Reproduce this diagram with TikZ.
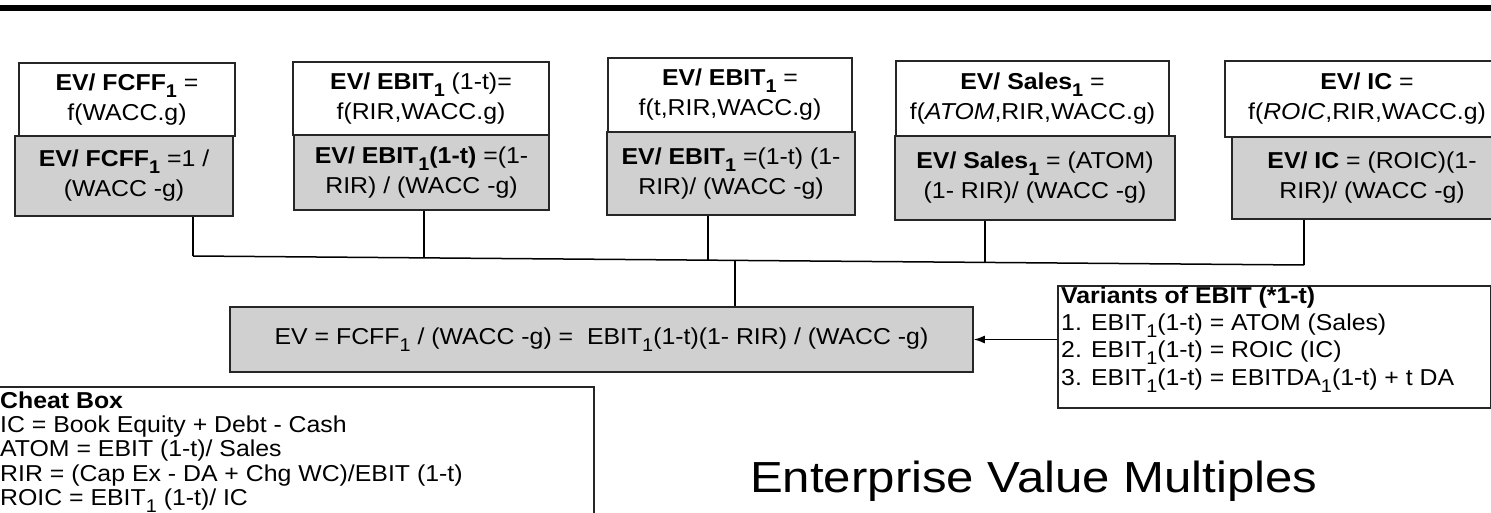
\documentclass[tikz,border=0pt]{standalone}
\usepackage{fontspec}
\setmainfont{Liberation Sans}[FakeStretch=1.08]
\newfontfamily\titlefont{Liberation Sans}[FakeStretch=1.13]
\usetikzlibrary{arrows.meta}
\definecolor{boxgray}{RGB}{208,208,208}
\newcommand{\sbs}[1]{\raisebox{-0.3em}{\scalebox{0.8}{#1}}}
\tikzset{
  wbox/.style={draw=black!85, line width=1.6pt, fill=white, align=center, inner sep=0pt,
    font=\fontsize{23}{30}\selectfont},
  gbox/.style={wbox, fill=boxgray},
  conn/.style={line width=1.5pt, black},
  txt/.style={inner sep=0pt, align=left, anchor=north west},
  arr/.style={conn, -{Latex[length=11pt,width=8pt]}},
}
\begin{document}
\begin{tikzpicture}[x=1pt,y=-1pt]
\useasboundingbox (0,0) rectangle (1491,513);
\clip (0,0) rectangle (1491,513);
% top bar
\fill[black] (0,5.5) rectangle (1491,11.5);

% top boxes
\node[wbox, minimum width=216pt, minimum height=73pt] (w1) at (127,99.5)
  {\textbf{EV/ FCFF\sbs{1}} =\\ f(WACC.g)};
\node[gbox, minimum width=218pt, minimum height=80pt] (g1) at (124,176)
  {\textbf{EV/ FCFF\sbs{1}} =1 /\\ (WACC -g)};

\node[wbox, minimum width=256pt, minimum height=73pt] (w2) at (421,98.5)
  {\textbf{EV/ EBIT\sbs{1}} (1-t)=\\ f(RIR,WACC.g)};
\node[gbox, minimum width=255pt, minimum height=75pt] (g2) at (421.5,172.5)
  {\textbf{EV/ EBIT\sbs{1}(1-t)} =(1-\\ RIR) / (WACC -g)};

\node[wbox, minimum width=244pt, minimum height=74pt] (w3) at (730,95)
  {\textbf{EV/ EBIT\sbs{1}} =\\ f(t,RIR,WACC.g)};
\node[gbox, minimum width=248pt, minimum height=83pt] (g3) at (731,173.5)
  {\textbf{EV/ EBIT\sbs{1}} =(1-t) (1-\\ RIR)/ (WACC -g)};

\node[wbox, minimum width=273pt, minimum height=75pt] (w4) at (1032.5,98.5)
  {\textbf{EV/ Sales\sbs{1}} =\\ f(\textit{ATOM},RIR,WACC.g)};
\node[gbox, minimum width=280pt, minimum height=84pt] (g4) at (1035,178)
  {\textbf{EV/ Sales\sbs{1}} = (ATOM)\\ (1- RIR)/ (WACC -g)};

\node[wbox, minimum width=284pt, minimum height=76pt] (w5) at (1367,99)
  {\textbf{EV/ IC} =\\ f(\textit{ROIC},RIR,WACC.g)};
\node[gbox, minimum width=280pt, minimum height=82pt] (g5) at (1372,178)
  {\textbf{EV/ IC} = (ROIC)(1-\\ RIR)/ (WACC -g)};

% middle box
\node[gbox, minimum width=743pt, minimum height=65pt] (mid) at (601.5,339.5)
  {EV = FCFF\sbs{1} / (WACC -g) =\ \ EBIT\sbs{1}(1-t)(1- RIR) / (WACC -g)};

% bus
\coordinate (b1) at (193,256);
\coordinate (b2) at (424,257.9);
\coordinate (b3) at (708,260.2);
\coordinate (bm) at (735,260.4);
\coordinate (b4) at (985,262.4);
\coordinate (b5) at (1304,265);
\draw[conn] (b1) -- (b5);
\draw[conn] (g1.south -| b1) -- (b1);
\draw[conn] (g2.south -| b2) -- (b2);
\draw[conn] (g3.south -| b3) -- (b3);
\draw[conn] (g4.south -| b4) -- (b4);
\draw[conn] (g5.south -| b5) -- (b5);
\draw[conn] (bm) -- (mid.north -| bm);

% variants box
\node[draw=black!85, line width=1.6pt, fill=white, minimum width=433pt, minimum height=122pt,
  anchor=north west, inner sep=0pt] (var) at (1057,285) {};
\node[txt, font=\fontsize{23}{27.3}\selectfont] (vartext) at (1061,286.5)
  {\textbf{Variants of EBIT (*1-t)}\\
   1. EBIT\sbs{1}(1-t) = ATOM (Sales)\\
   2. EBIT\sbs{1}(1-t) = ROIC (IC)\\
   3. EBIT\sbs{1}(1-t) = EBITDA\sbs{1}(1-t) + t DA};
\draw[arr] (mid.east -| var.west) -- (mid.east);

% cheat box
\node[draw=black!85, line width=1.6pt, fill=white, minimum width=603pt, minimum height=160pt,
  anchor=north west, inner sep=0pt] (cheat) at (-10,386) {};
\node[txt, font=\fontsize{23}{24.3}\selectfont] (cheattext) at (0,391.5)
  {\textbf{Cheat Box}\\
   IC = Book Equity + Debt - Cash\\
   ATOM = EBIT (1-t)/ Sales\\
   RIR = (Cap Ex - DA + Chg WC)/EBIT (1-t)\\
   ROIC = EBIT\sbs{1} (1-t)/ IC};

% title
\node[anchor=base west, inner sep=0pt, font=\titlefont\fontsize{43.5}{43.5}\selectfont] (title) at (750,492)
  {Enterprise Value Multiples};
\end{tikzpicture}
\end{document}
